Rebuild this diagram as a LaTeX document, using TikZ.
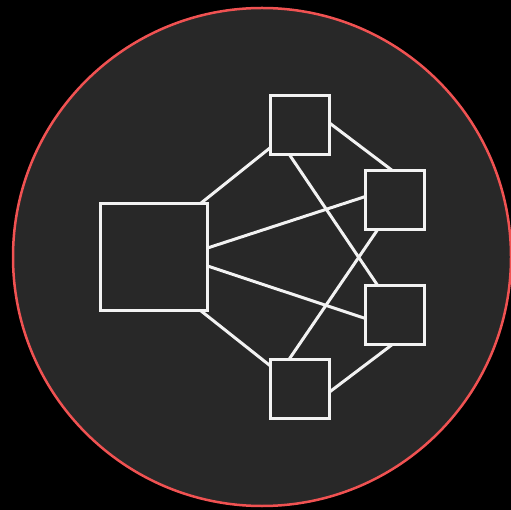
\documentclass[tikz,border=0pt]{standalone}
\begin{document}
\begin{tikzpicture}[x=1pt,y=-1pt,
  boxstyle/.style={draw=boxwhite, fill=bggrey, line width=3pt, minimum size=59pt, inner sep=0pt, outer sep=0pt},
  bigbox/.style={boxstyle, minimum size=107pt},
  link/.style={draw=boxwhite, line width=3pt}]
\definecolor{bggrey}{HTML}{282828}
\definecolor{ringred}{HTML}{F05252}
\definecolor{boxwhite}{HTML}{F2F2F2}
\fill[black] (0,0) rectangle (511,510);
\useasboundingbox (0,0) rectangle (511,510);
\draw[draw=ringred, fill=bggrey, line width=2.5pt] (262,257) circle[radius=249pt];
\node[bigbox] (big) at (154,257) {};
\node[boxstyle] (top) at (300,125) {};
\node[boxstyle] (ur) at (395,200) {};
\node[boxstyle] (lr) at (395,315) {};
\node[boxstyle] (bot) at (300,388.5) {};
\draw[link] ([xshift=-7pt]big.north east) -- ([yshift=7pt]top.south west);
\draw[link] ([xshift=-7pt]big.south east) -- ([yshift=-7pt]bot.north west);
\draw[link] ([yshift=9pt]big.east) -- ([yshift=3.5pt]ur.west);
\draw[link] ([yshift=-9pt]big.east) -- ([yshift=-3.5pt]lr.west);
\draw[link] ([xshift=-10.7pt]top.south) -- ([xshift=-17.3pt]lr.north);
\draw[link] ([xshift=-10.7pt]bot.north) -- ([xshift=-17.3pt]ur.south);
\draw[link] ([yshift=2pt]top.east) -- ([xshift=-2.7pt]ur.north);
\draw[link] ([yshift=-3.5pt]bot.east) -- ([xshift=-2.7pt]lr.south);
\end{tikzpicture}
\end{document}
